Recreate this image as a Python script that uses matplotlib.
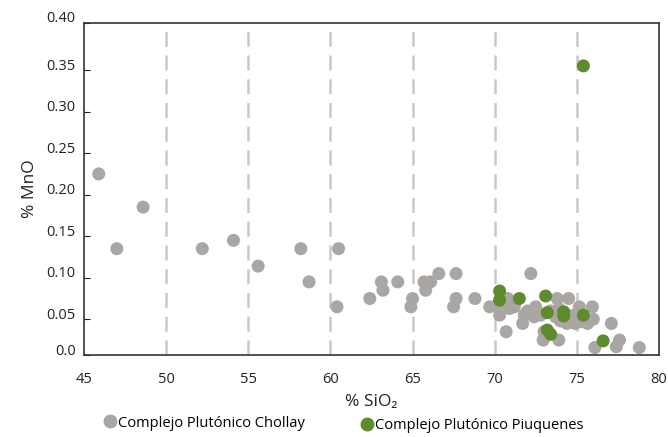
import matplotlib
matplotlib.use("Agg")
import matplotlib.pyplot as plt
from matplotlib.lines import Line2D
from matplotlib.transforms import ScaledTranslation

plt.rcParams['font.family'] = ['Open Sans', 'DejaVu Sans']

# Complejo Plutónico Chollay (gray)
chollay_sio2 = [45.9, 47.0, 48.6, 52.2, 54.1, 55.6, 58.2, 58.7, 60.5, 60.4,
                62.4, 63.1, 63.2, 64.1, 65.0, 64.9, 65.7, 66.1, 65.8, 66.6,
                67.65, 67.65, 67.5, 68.8, 72.2, 69.7, 70.3, 70.8, 70.9, 70.7,
                71.7, 71.8, 72.5, 72.4, 72.8, 73.0, 72.95, 73.8, 73.9, 73.7,
                74.5, 74.4, 73.9, 75.15, 75.95, 75.65, 74.9, 77.1, 77.6, 77.4,
                76.1, 78.8, 75.2, 71.2, 73.4, 74.0, 76.0, 70.2, 72.0, 74.8]
chollay_mno = [0.225, 0.135, 0.185, 0.135, 0.145, 0.114, 0.135, 0.095, 0.135, 0.065,
               0.075, 0.095, 0.085, 0.095, 0.075, 0.065, 0.095, 0.095, 0.085, 0.105,
               0.105, 0.075, 0.065, 0.075, 0.105, 0.065, 0.055, 0.075, 0.063, 0.035,
               0.045, 0.055, 0.065, 0.053, 0.055, 0.035, 0.025, 0.075, 0.063, 0.053,
               0.075, 0.045, 0.025, 0.065, 0.065, 0.045, 0.045, 0.045, 0.025, 0.017,
               0.016, 0.016, 0.047, 0.065, 0.060, 0.048, 0.050, 0.068, 0.060, 0.055]

# Complejo Plutónico Piuquenes (green)
piuquenes_sio2 = [70.3, 70.3, 71.5, 73.1, 73.2, 74.2, 74.2, 73.2, 73.4, 75.4, 76.6, 75.4]
piuquenes_mno = [0.084, 0.073, 0.075, 0.078, 0.058, 0.059, 0.054, 0.037, 0.032, 0.055, 0.024, 0.355]

x_ticks = [45, 50, 55, 60, 65, 70, 75, 80]
grid_x = [50, 55, 60, 65, 70, 75]
y_lo, y_hi = 0.007, 0.407
y_ticks = [y_lo, 0.05, 0.10, 0.15, 0.20, 0.25, 0.30, 0.35, y_hi]
y_tick_labels = ["0.0", "0.05", "0.10", "0.15", "0.20", "0.25", "0.30", "0.35", "0.40"]

gray = "#aaa6a4"
green = "#5e8b2e"

fig = plt.figure(figsize=(6.68, 4.37), dpi=100)
ax = fig.add_axes([0.1257, 0.1876, 0.8608, 0.7605])

for gx in grid_x:
    ax.axvline(gx, color="#c9c9c9", lw=1.8, dashes=(6, 3.5), zorder=0)

ax.scatter(chollay_sio2, chollay_mno, s=88, color=gray, edgecolors="none", zorder=2)
ax.scatter(piuquenes_sio2, piuquenes_mno, s=88, color=green, edgecolors="none", zorder=3)

ax.set_xlim(45, 80)
ax.set_ylim(y_lo, y_hi)
ax.set_xticks(x_ticks)
ax.set_yticks(y_ticks, labels=y_tick_labels)
ax.tick_params(axis="x", length=0, pad=12, labelsize=10.5, colors="#222222")
ax.tick_params(axis="y", direction="in", length=4, width=0.8, pad=6,
               labelsize=10.5, colors="#222222")
for lab in ax.get_yticklabels():
    lab.set_transform(lab.get_transform() + ScaledTranslation(0, 0.06, fig.dpi_scale_trans))

for sp in ax.spines.values():
    sp.set_color("#333333")
    sp.set_linewidth(1.2)

ax.set_xlabel("% SiO₂", fontsize=12.5, labelpad=5, color="#222222")
ax.set_ylabel("% MnO", fontsize=12.5, labelpad=6, color="#222222")

h1 = Line2D([], [], marker="o", ls="", color=gray, markersize=9)
h2 = Line2D([], [], marker="o", ls="", color=green, markersize=9)
fig.legend([h1], ["Complejo Plutónico Chollay"], loc="center left",
           bbox_to_anchor=(0.143, 0.032), frameon=False, fontsize=10.5,
           handletextpad=0.05, borderpad=0, handlelength=1.0)
fig.legend([h2], ["Complejo Plutónico Piuquenes"], loc="center left",
           bbox_to_anchor=(0.527, 0.027), frameon=False, fontsize=10.5,
           handletextpad=0.05, borderpad=0, handlelength=1.0)

fig.savefig("out.png", dpi=100)
